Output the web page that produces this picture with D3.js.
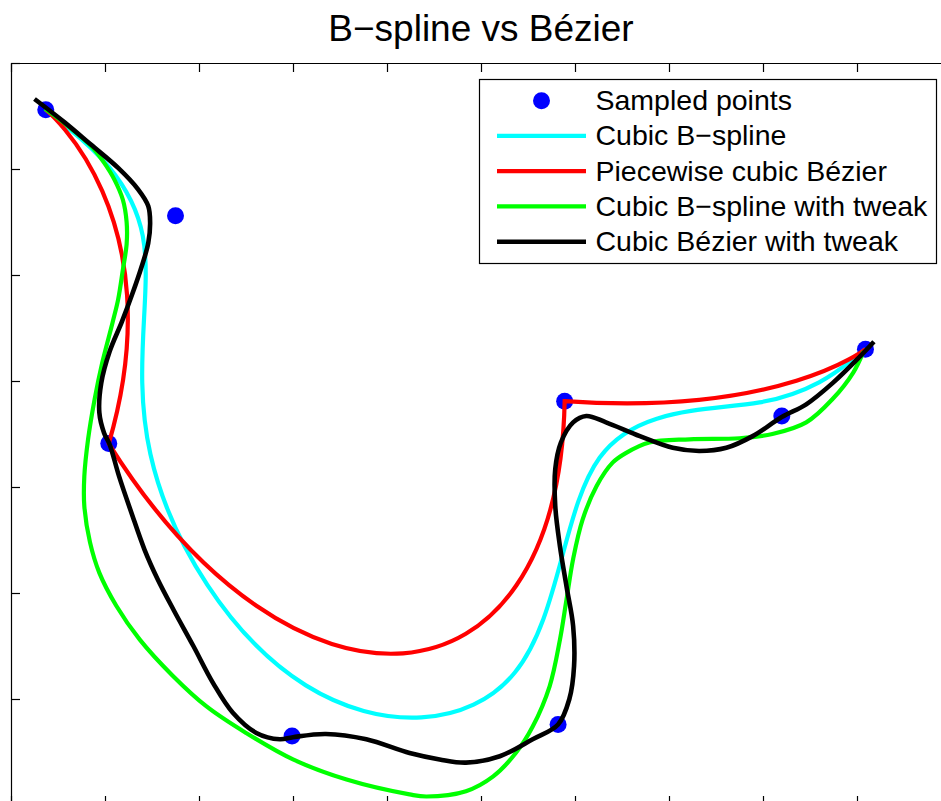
<!DOCTYPE html>
<html>
<head>
<meta charset="utf-8">
<script src="https://cdn.jsdelivr.net/npm/d3@7"></script>
<style>
  html, body { margin: 0; padding: 0; background: #fff; }
  svg { display: block; font-family: "Liberation Sans", Arial, Helvetica, sans-serif; }
</style>
</head>
<body>
<svg id="chart" width="941" height="801"></svg>
<script>
// ---- data -------------------------------------------------------------
const chartTitle = "B\u2212spline vs B\u00e9zier";

const seriesNames = [
  "Sampled points",
  "Cubic B\u2212spline",
  "Piecewise cubic B\u00e9zier",
  "Cubic B\u2212spline with tweak",
  "Cubic B\u00e9zier with tweak"
];
const seriesColors = ["#0000ff", "#00ffff", "#ff0000", "#00ff00", "#000000"];

const xTicks = [0, 1, 2, 3, 4, 5, 6, 7, 8, 9, 10];
const yTicks = [0, 1, 2, 3, 4, 5, 6, 7];

// sampled control points
const sampledPoints = [
  [0.37, 6.56], [1.75, 5.56], [1.04, 3.41], [2.99, 0.65],
  [5.82, 0.76], [5.89, 3.81], [8.20, 3.67], [9.09, 4.30]
];

// control polygon of the piecewise cubic Bezier (end points doubled)
const bezierOrder = [0, 0, 1, 2, 3, 4, 5, 6, 7, 7];

// cubic B-spline after the tweak
const tweakedBSpline = [
  [0.36, 6.57], [0.60, 6.41], [0.86, 6.21], [0.99, 6.06], [1.10, 5.90],
  [1.19, 5.71], [1.23, 5.50], [1.23, 5.29], [1.19, 5.05], [1.14, 4.77],
  [1.08, 4.55], [0.97, 4.17], [0.89, 3.83], [0.82, 3.45], [0.78, 3.10],
  [0.78, 2.82], [0.84, 2.48], [0.94, 2.19], [1.12, 1.88], [1.37, 1.56],
  [1.72, 1.22], [2.08, 0.93], [2.50, 0.68], [3.00, 0.43], [3.57, 0.24],
  [4.24, 0.10], [4.42, 0.08], [4.84, 0.13], [5.13, 0.27], [5.37, 0.49],
  [5.55, 0.74], [5.73, 1.12], [5.84, 1.56], [5.91, 1.94], [5.98, 2.32],
  [6.08, 2.69], [6.23, 3.01], [6.40, 3.23], [6.54, 3.32], [6.79, 3.42],
  [7.22, 3.45], [7.75, 3.46], [8.10, 3.50], [8.46, 3.61], [8.74, 3.83],
  [8.96, 4.08], [9.07, 4.28]
];

// cubic Bezier after the tweak
const tweakedBezier = [
  [0.25, 6.66], [0.57, 6.44], [0.85, 6.23], [1.14, 6.01], [1.35, 5.81],
  [1.46, 5.65], [1.48, 5.49], [1.46, 5.30], [1.39, 5.08], [1.29, 4.82],
  [1.18, 4.56], [1.05, 4.28], [0.96, 3.98], [0.94, 3.70], [0.99, 3.51],
  [1.05, 3.40], [1.15, 3.10], [1.28, 2.76], [1.42, 2.41], [1.56, 2.13],
  [1.73, 1.84], [1.94, 1.50], [2.15, 1.15], [2.36, 0.87], [2.61, 0.68],
  [2.86, 0.62], [3.00, 0.64], [3.35, 0.67], [3.78, 0.62], [4.24, 0.49],
  [4.56, 0.43], [4.84, 0.40], [5.20, 0.46], [5.55, 0.62], [5.82, 0.76],
  [5.94, 1.00], [5.99, 1.31], [5.98, 1.69], [5.91, 2.06], [5.84, 2.44],
  [5.79, 2.82], [5.79, 3.17], [5.85, 3.42], [5.98, 3.61], [6.12, 3.67],
  [6.33, 3.61], [6.69, 3.48], [7.04, 3.37], [7.32, 3.34], [7.61, 3.37],
  [7.89, 3.48], [8.20, 3.66], [8.46, 3.78], [8.74, 3.98], [9.03, 4.23],
  [9.18, 4.37]
];

// ---- layout -----------------------------------------------------------
const svg = d3.select("#chart");
const plot = { left: 11, right: 951, top: 63, bottom: 805 };

const x = d3.scaleLinear().domain([0, 10]).range([plot.left, plot.right]);
const y = d3.scaleLinear().domain([0, 7]).range([plot.bottom, plot.top]);

const lineW = 4.2;
const blackW = 4.6;

// ---- title ------------------------------------------------------------
svg.append("text")
  .attr("x", (plot.left + plot.right) / 2)
  .attr("y", 41)
  .attr("text-anchor", "middle")
  .attr("font-size", 37)
  .attr("fill", "#000")
  .text(chartTitle);

// ---- axes box with inward ticks, no labels ----------------------------
function styleAxis(g) {
  g.selectAll("path.domain").attr("stroke", "#000").attr("stroke-width", 1.2);
  g.selectAll(".tick line").attr("stroke", "#000").attr("stroke-width", 1.2);
  g.selectAll(".tick text").remove();
}
svg.append("g").attr("transform", `translate(0,${plot.top})`)
  .call(d3.axisTop(x).tickValues(xTicks).tickSizeInner(-9).tickSizeOuter(0).tickFormat(""))
  .call(styleAxis);
svg.append("g").attr("transform", `translate(0,${plot.bottom})`)
  .call(d3.axisBottom(x).tickValues(xTicks).tickSizeInner(-9).tickSizeOuter(0).tickFormat(""))
  .call(styleAxis);
svg.append("g").attr("transform", `translate(${plot.left},0)`)
  .call(d3.axisLeft(y).tickValues(yTicks).tickSizeInner(-9).tickSizeOuter(0).tickFormat(""))
  .call(styleAxis);
svg.append("g").attr("transform", `translate(${plot.right},0)`)
  .call(d3.axisRight(y).tickValues(yTicks).tickSizeInner(-9).tickSizeOuter(0).tickFormat(""))
  .call(styleAxis);

// ---- marks ------------------------------------------------------------
const marks = svg.append("g");

// sampled points (drawn first, curves pass over them)
marks.selectAll("circle.sample")
  .data(sampledPoints)
  .join("circle")
  .attr("class", "sample")
  .attr("cx", d => x(d[0]))
  .attr("cy", d => y(d[1]))
  .attr("r", 8.5)
  .attr("fill", seriesColors[0]);

// uniform cubic B-spline of the sampled points
const basisLine = d3.line().x(d => x(d[0])).y(d => y(d[1])).curve(d3.curveBasis);
marks.append("path")
  .attr("d", basisLine(sampledPoints))
  .attr("fill", "none")
  .attr("stroke", seriesColors[1])
  .attr("stroke-width", lineW)
  .attr("stroke-linejoin", "round");

// piecewise cubic Bezier: segments of four control points sharing ends
const ctrl = bezierOrder.map(i => sampledPoints[i]);
const bez = d3.path();
bez.moveTo(x(ctrl[0][0]), y(ctrl[0][1]));
for (let i = 1; i + 2 < ctrl.length; i += 3) {
  bez.bezierCurveTo(
    x(ctrl[i][0]), y(ctrl[i][1]),
    x(ctrl[i + 1][0]), y(ctrl[i + 1][1]),
    x(ctrl[i + 2][0]), y(ctrl[i + 2][1])
  );
}
marks.append("path")
  .attr("d", bez.toString())
  .attr("fill", "none")
  .attr("stroke", seriesColors[2])
  .attr("stroke-width", lineW)
  .attr("stroke-linejoin", "miter");

// tweaked curves
const smoothLine = d3.line().x(d => x(d[0])).y(d => y(d[1])).curve(d3.curveCatmullRom.alpha(0.5));
marks.append("path")
  .attr("d", smoothLine(tweakedBSpline))
  .attr("fill", "none")
  .attr("stroke", seriesColors[3])
  .attr("stroke-width", lineW);
marks.append("path")
  .attr("d", smoothLine(tweakedBezier))
  .attr("fill", "none")
  .attr("stroke", seriesColors[4])
  .attr("stroke-width", blackW);

// ---- legend -----------------------------------------------------------
const legend = svg.append("g");
const lg = { x: 479.5, y: 79.5, w: 457, h: 184, rowY0: 100.7, rowStep: 35.25,
             lineX0: 497, lineX1: 586, textX: 595.5 };
legend.append("rect")
  .attr("x", lg.x).attr("y", lg.y).attr("width", lg.w).attr("height", lg.h)
  .attr("fill", "#fff").attr("stroke", "#000").attr("stroke-width", 1.2);

seriesNames.forEach((name, i) => {
  const ry = lg.rowY0 + i * lg.rowStep;
  if (i === 0) {
    legend.append("circle")
      .attr("cx", (lg.lineX0 + lg.lineX1) / 2).attr("cy", ry).attr("r", 8.5)
      .attr("fill", seriesColors[0]);
  } else {
    legend.append("line")
      .attr("x1", lg.lineX0).attr("x2", lg.lineX1).attr("y1", ry).attr("y2", ry)
      .attr("stroke", seriesColors[i]).attr("stroke-width", i === 4 ? blackW : lineW);
  }
  legend.append("text")
    .attr("x", lg.textX).attr("y", ry + 9.5)
    .attr("font-size", 28.5)
    .attr("fill", "#000")
    .text(name);
});
</script>
</body>
</html>
